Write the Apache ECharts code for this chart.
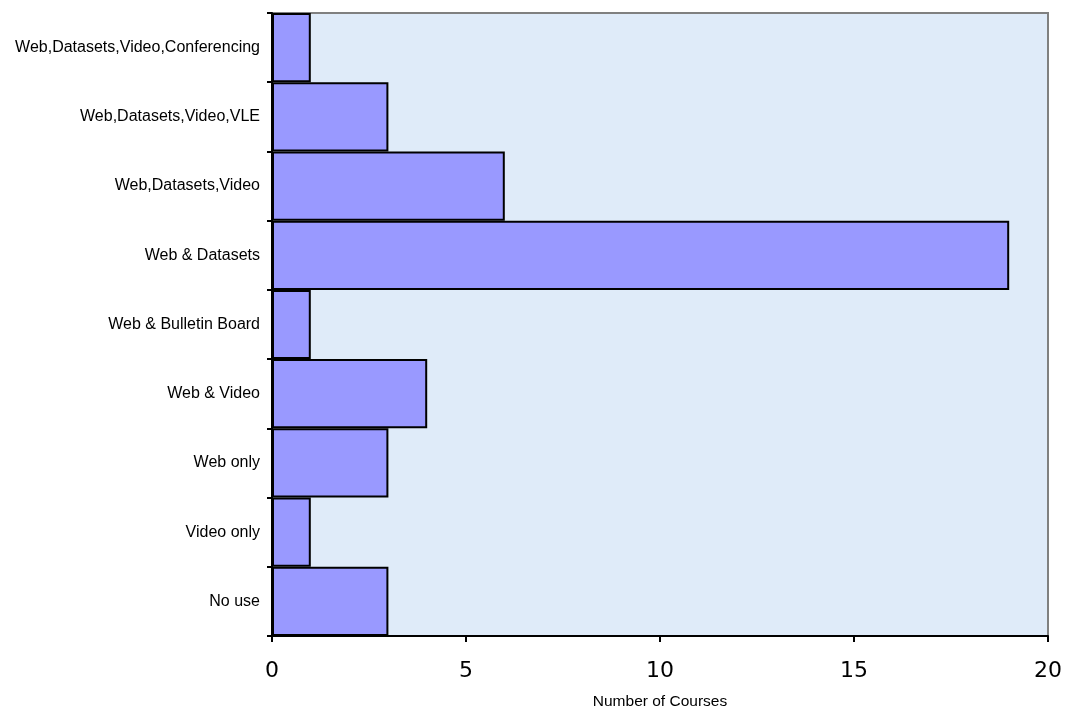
<!DOCTYPE html>
<html>
<head>
<meta charset="utf-8">
<script src="https://cdn.jsdelivr.net/npm/echarts@6/dist/echarts.min.js"></script>
<style>
  html, body { margin: 0; padding: 0; background: #ffffff; }
  #chart { width: 1068px; height: 709px; }
</style>
</head>
<body>
<div id="chart"></div>
<script>
// Course delivery methods, bottom to top
const categories = [
  'No use',
  'Video only',
  'Web only',
  'Web & Video',
  'Web & Bulletin Board',
  'Web & Datasets',
  'Web,Datasets,Video',
  'Web,Datasets,Video,VLE',
  'Web,Datasets,Video,Conferencing'
];
const courseCounts = [3, 1, 3, 4, 1, 19, 6, 3, 1];
const xTicks = [0, 5, 10, 15, 20];

const chart = echarts.init(document.getElementById('chart'), null, { renderer: 'canvas' });

chart.setOption({
  animation: false,
  backgroundColor: '#ffffff',
  grid: {
    left: 272, right: 20, top: 13, bottom: 73,
    outerBoundsMode: 'none',
    containLabel: false,
    show: true,
    backgroundColor: '#dfebf9',
    borderColor: '#808080',
    borderWidth: 2
  },
  xAxis: {
    type: 'value',
    min: xTicks[0],
    max: xTicks[xTicks.length - 1],
    interval: 5,
    name: 'Number of Courses',
    nameLocation: 'middle',
    nameGap: 58,
    nameTextStyle: { fontFamily: 'Liberation Sans, Arial', fontSize: 15.5, color: '#000' },
    axisLine: { show: true, lineStyle: { color: '#000', width: 2 } },
    axisTick: { show: true, length: 6, lineStyle: { color: '#000', width: 2 } },
    axisLabel: {
      margin: 24,
      fontFamily: 'DejaVu Sans, Verdana',
      fontSize: 22,
      color: '#000'
    },
    splitLine: { show: false }
  },
  yAxis: {
    type: 'category',
    data: categories,
    boundaryGap: true,
    axisLine: { show: true, lineStyle: { color: '#000', width: 2 } },
    axisTick: { show: true, length: 5, lineStyle: { color: '#000', width: 2 } },
    axisLabel: {
      margin: 12,
      fontFamily: 'Liberation Sans, Arial',
      fontSize: 16,
      color: '#000'
    },
    splitLine: { show: false }
  },
  series: [{
    type: 'bar',
    data: courseCounts,
    barCategoryGap: '0%',
    itemStyle: {
      color: '#9999ff',
      borderColor: '#000',
      borderWidth: 2
    }
  }]
});
</script>
</body>
</html>
